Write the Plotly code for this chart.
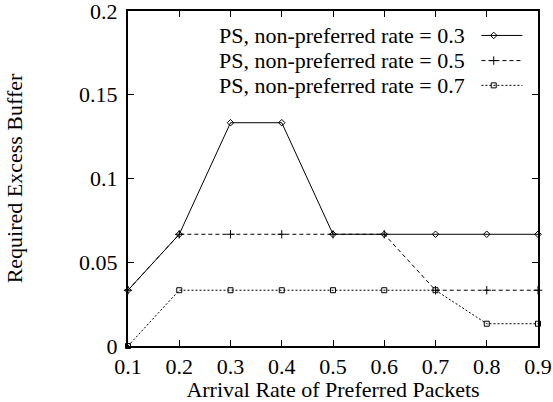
import plotly.graph_objects as go

arrival_rate = [0.1, 0.2, 0.3, 0.4, 0.5, 0.6, 0.7, 0.8, 0.9]
buffer_np03 = [0.0333, 0.0667, 0.1333, 0.1333, 0.0667, 0.0667, 0.0667, 0.0667, 0.0667]
buffer_np05 = [0.0333, 0.0667, 0.0667, 0.0667, 0.0667, 0.0667, 0.0333, 0.0333, 0.0333]
buffer_np07 = [0.0, 0.0333, 0.0333, 0.0333, 0.0333, 0.0333, 0.0333, 0.0133, 0.0133]
series_names = ["PS, non-preferred rate = 0.3",
                "PS, non-preferred rate = 0.5",
                "PS, non-preferred rate = 0.7"]
x_ticks = [0.1, 0.2, 0.3, 0.4, 0.5, 0.6, 0.7, 0.8, 0.9]
x_tick_labels = ["0.1", "0.2", "0.3", "0.4", "0.5", "0.6", "0.7", "0.8", "0.9"]
y_ticks = [0, 0.05, 0.1, 0.15, 0.2]
y_tick_labels = ["0", "0.05", "0.1", "0.15", "0.2"]

FONT = "Liberation Serif"
FS = 22
styles = [
    dict(dash="solid", symbol="diamond-open", size=5),
    dict(dash="4px,3px", symbol="cross-thin-open", size=6),
    dict(dash="2px,2px", symbol="square-open", size=5),
]
series = [buffer_np03, buffer_np05, buffer_np07]

fig = go.Figure()
for vals, st, name in zip(series, styles, series_names):
    fig.add_trace(go.Scatter(
        x=arrival_rate, y=vals, mode="lines+markers", name=name,
        line=dict(color="black", width=1, dash=st["dash"]),
        marker=dict(symbol=st["symbol"], size=st["size"], color="black",
                    line=dict(color="black", width=1)),
        showlegend=False, cliponaxis=False,
    ))

# gnuplot-style key: text on the left, line sample (with centre marker) on the right
key_y = [0.927, 0.852, 0.778]
key_x0, key_x1, key_xm = 0.862, 0.962, 0.892
for st, name, ky in zip(styles, series_names, key_y):
    fig.add_trace(go.Scatter(
        x=[key_x0, key_x1], y=[ky, ky], xaxis="x2", yaxis="y2", mode="lines",
        line=dict(color="black", width=1, dash=st["dash"]),
        showlegend=False, hoverinfo="skip",
    ))
    fig.add_trace(go.Scatter(
        x=[key_xm], y=[ky], xaxis="x2", yaxis="y2", mode="markers",
        marker=dict(symbol=st["symbol"], size=st["size"], color="black",
                    line=dict(color="black", width=1)),
        showlegend=False, hoverinfo="skip",
    ))
    fig.add_annotation(x=0.824, y=ky, xref="paper", yref="paper",
                       xanchor="right", yanchor="middle", showarrow=False,
                       borderpad=0, valign="middle",
                       text=name, font=dict(family=FONT, size=FS, color="black"))

axis_common = dict(
    showline=True, linecolor="black", linewidth=2, mirror="allticks",
    ticks="inside", ticklen=6, tickwidth=1, tickcolor="black",
    showgrid=False, zeroline=False, automargin=False,
    ticklabeloverflow="allow",
    tickfont=dict(family=FONT, size=FS, color="black"),
)

fig.update_layout(
    width=553, height=402,
    margin=dict(l=128, r=15, t=11, b=56),
    plot_bgcolor="white", paper_bgcolor="white",
    showlegend=False,
    xaxis=dict(range=[0.1, 0.9], tickvals=x_ticks, ticktext=x_tick_labels,
               title=dict(text="Arrival Rate of Preferred Packets",
                          font=dict(family=FONT, size=FS, color="black"), standoff=5),
               **axis_common),
    yaxis=dict(range=[0, 0.2], tickvals=y_ticks, ticktext=y_tick_labels,
               ticklabelstandoff=4,
               title=dict(text="Required Excess Buffer",
                          font=dict(family=FONT, size=FS, color="black"), standoff=50),
               **axis_common),
    xaxis2=dict(overlaying="x", range=[0, 1], visible=False),
    yaxis2=dict(overlaying="y", range=[0, 1], visible=False),
)

fig.write_html("out.html", config={"displayModeBar": False},
               post_script="document.body.style.margin='0';")
